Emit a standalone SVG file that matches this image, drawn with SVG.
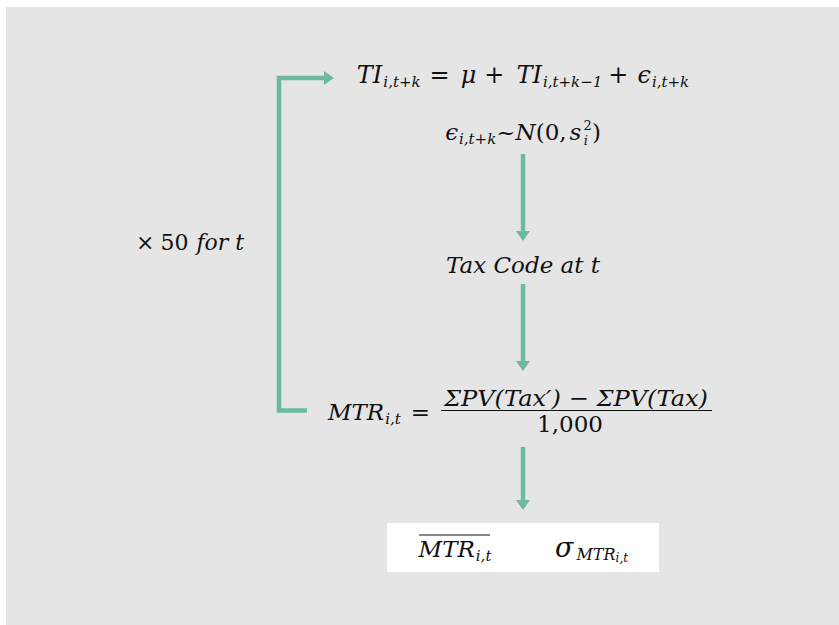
<svg xmlns="http://www.w3.org/2000/svg" width="839" height="625" viewBox="0 0 839 625">
<style>
.m{fill:#111;}
.i{font-style:italic;}
.n{font-style:normal;}
.big{font-size:23px;}
.sub{font-size:15px;}
.con{stroke:#6cbb9c;stroke-width:4.5;fill:none;}
.head{fill:#6cbb9c;}
</style>
<rect x="0" y="0" width="839" height="625" fill="#ffffff"/>
<rect x="6" y="7" width="833" height="618" fill="#e5e5e5"/>
<g id="connectors">
<path class="con" d="M307,410.5 H279 V78 H325"/>
<polygon class="head" points="324,71 334,78 324,85"/>
<line class="con" x1="523" y1="154" x2="523" y2="232"/>
<polygon class="head" points="516,231 530,231 523,241"/>
<line class="con" x1="523" y1="284" x2="523" y2="362"/>
<polygon class="head" points="516,361 530,361 523,371"/>
<line class="con" x1="523" y1="447" x2="523" y2="501"/>
<polygon class="head" points="516,500 530,500 523,510"/>
</g>
<g font-family="'DejaVu Serif', 'Liberation Serif', serif">
<g id="loop-label">
<text class="m" x="136" y="250" font-size="22">×<tspan dx="6">50</tspan><tspan class="i" dx="8">for t</tspan></text>
</g>
<g id="node-ti">
<text class="m i" x="523" y="83" font-size="24" text-anchor="middle">TI<tspan class="sub" dy="4" dx="1">i,t+k</tspan><tspan class="n" dy="-4" dx="9">=</tspan><tspan dx="11">μ</tspan><tspan class="n" dx="8">+</tspan><tspan dx="12">TI</tspan><tspan class="sub" dy="4" dx="1">i,t+k−1</tspan><tspan class="n" dy="-4" dx="6">+</tspan><tspan dx="9">ϵ</tspan><tspan class="sub" dy="4" dx="1">i,t+k</tspan></text>
</g>
<g id="node-eps">
<text class="m big i" x="523" y="140" text-anchor="middle">ϵ<tspan class="sub" dy="4" dx="1">i,t+k</tspan><tspan class="n" dy="-4">~</tspan><tspan>N</tspan><tspan class="n">(0,</tspan><tspan dx="3">s</tspan><tspan class="n" font-size="13" dy="-10" dx="2">2</tspan><tspan font-size="13" dy="15" dx="-8">i</tspan><tspan class="n" dy="-5" dx="4">)</tspan></text>
</g>
<g id="node-tax">
<text class="m big i" x="523" y="273" text-anchor="middle">Tax Code at t</text>
</g>
<g id="node-mtr">
<text class="m i" x="430" y="420" font-size="23" text-anchor="end">MTR<tspan class="sub" dy="4" dx="1">i,t</tspan><tspan class="n" dy="-4" dx="10">=</tspan></text>
<text class="m big i" x="576" y="406" text-anchor="middle" textLength="264" lengthAdjust="spacingAndGlyphs">ΣPV(Tax′) <tspan class="n">−</tspan> ΣPV(Tax)</text>
<line x1="441" y1="410.5" x2="712" y2="410.5" stroke="#111" stroke-width="1"/>
<text class="m" x="570" y="432" text-anchor="middle" font-size="23">1,000</text>
</g>
<g id="node-result">
<rect x="387" y="523" width="272" height="49" fill="#ffffff"/>
<line x1="419" y1="535" x2="490" y2="535" stroke="#111" stroke-width="1.2"/>
<text class="m i" x="455" y="557" font-size="23" text-anchor="middle">MTR<tspan class="sub" dy="4" dx="1">i,t</tspan></text>
<text class="m i" x="555" y="557" font-size="27">σ<tspan font-size="16" dy="3" dx="3">MTR</tspan><tspan font-size="12" dy="2">i,t</tspan></text>
</g>
</g>
</svg>
